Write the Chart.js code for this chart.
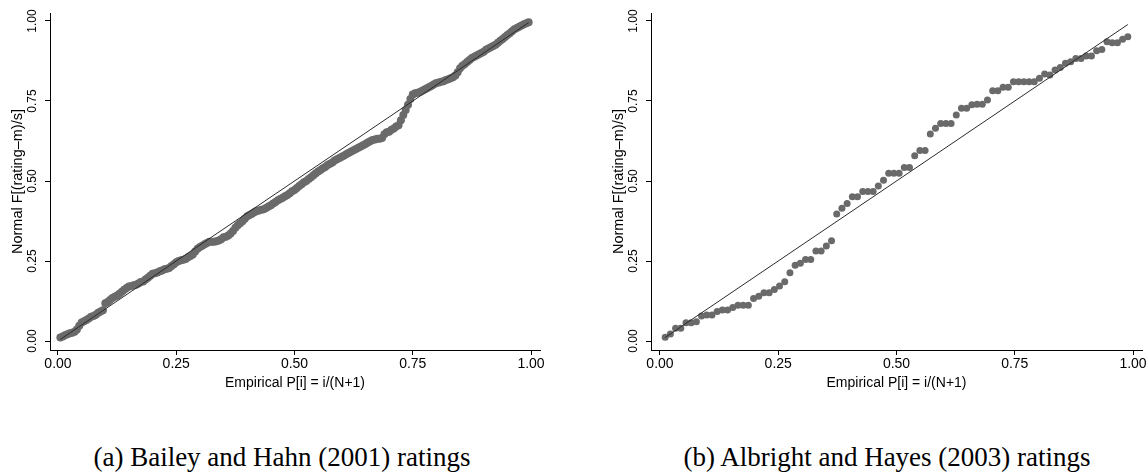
<!DOCTYPE html>
<html>
<head>
<meta charset="utf-8">
<script src="https://cdn.jsdelivr.net/npm/chart.js@4.4.1/dist/chart.umd.min.js"></script>
<style>
  body { margin: 0; background: #fff; width: 1148px; height: 476px; position: relative; overflow: hidden; }
  .panel { position: absolute; top: 0; }
  .cap { position: absolute; top: 444px; width: 560px; text-align: center;
         font-family: "Liberation Serif", "Times New Roman", serif; font-size: 27px; line-height: 27px; color: #000; }
</style>
</head>
<body>
<div class="panel" style="left:0px"><canvas id="qqA" width="574" height="400"></canvas></div>
<div class="panel" style="left:601px"><canvas id="qqB" width="547" height="400"></canvas></div>
<div class="cap" style="left:2px">(a) Bailey and Hahn (2001) ratings</div>
<div class="cap" style="left:607px">(b) Albright and Hayes (2003) ratings</div>
<script>
// tick positions and labels (same on both axes)
var tickVals = [0, 0.25, 0.5, 0.75, 1];
var tickLabels = ['0.00', '0.25', '0.50', '0.75', '1.00'];

// Normal F[(rating-m)/s] for each ordered rating, panel (a)
var baileyHahn = [
    0.011, 0.014, 0.018, 0.021, 0.024, 0.026, 0.029, 0.036, 0.048, 0.058,
    0.062, 0.066, 0.070, 0.076, 0.078, 0.082, 0.088, 0.092, 0.096, 0.118,
    0.122, 0.128, 0.134, 0.138, 0.142, 0.148, 0.154, 0.160, 0.166, 0.170,
    0.172, 0.174, 0.176, 0.180, 0.184, 0.186, 0.192, 0.198, 0.204, 0.210,
    0.212, 0.214, 0.218, 0.220, 0.224, 0.226, 0.228, 0.234, 0.240, 0.246,
    0.250, 0.252, 0.254, 0.256, 0.262, 0.266, 0.270, 0.280, 0.288, 0.294,
    0.298, 0.302, 0.306, 0.310, 0.310, 0.310, 0.312, 0.314, 0.318, 0.324,
    0.326, 0.330, 0.336, 0.344, 0.354, 0.362, 0.368, 0.374, 0.382, 0.390,
    0.394, 0.398, 0.402, 0.406, 0.408, 0.410, 0.412, 0.416, 0.420, 0.424,
    0.430, 0.434, 0.440, 0.444, 0.448, 0.452, 0.456, 0.462, 0.468, 0.472,
    0.478, 0.484, 0.490, 0.496, 0.500, 0.506, 0.512, 0.518, 0.524, 0.530,
    0.534, 0.540, 0.544, 0.550, 0.554, 0.558, 0.564, 0.568, 0.572, 0.576,
    0.580, 0.584, 0.588, 0.592, 0.596, 0.600, 0.604, 0.608, 0.612, 0.616,
    0.620, 0.624, 0.628, 0.630, 0.632, 0.632, 0.634, 0.646, 0.652, 0.654,
    0.660, 0.664, 0.670, 0.674, 0.690, 0.706, 0.722, 0.738, 0.756, 0.770,
    0.774, 0.776, 0.778, 0.782, 0.786, 0.790, 0.794, 0.798, 0.802, 0.806,
    0.808, 0.810, 0.812, 0.816, 0.818, 0.821, 0.824, 0.830, 0.840, 0.852,
    0.860, 0.866, 0.872, 0.878, 0.884, 0.888, 0.892, 0.896, 0.900, 0.904,
    0.910, 0.914, 0.918, 0.922, 0.926, 0.932, 0.938, 0.944, 0.950, 0.956,
    0.962, 0.968, 0.974, 0.978, 0.982, 0.986, 0.990, 0.993, 0.996
];

// panel (b)
var albrightHayes = [
    0.012, 0.022, 0.040, 0.040, 0.057, 0.057, 0.060, 0.078, 0.081, 0.081,
    0.092, 0.097, 0.097, 0.105, 0.112, 0.112, 0.112, 0.133, 0.140, 0.151,
    0.151, 0.161, 0.172, 0.185, 0.213, 0.237, 0.243, 0.255, 0.255, 0.281,
    0.281, 0.297, 0.313, 0.397, 0.415, 0.430, 0.451, 0.451, 0.467, 0.467,
    0.467, 0.484, 0.502, 0.524, 0.524, 0.524, 0.542, 0.542, 0.579, 0.595,
    0.595, 0.647, 0.665, 0.680, 0.680, 0.680, 0.706, 0.727, 0.727, 0.738,
    0.740, 0.740, 0.753, 0.782, 0.782, 0.793, 0.793, 0.810, 0.810, 0.810,
    0.810, 0.810, 0.821, 0.834, 0.831, 0.847, 0.855, 0.868, 0.873, 0.883,
    0.883, 0.891, 0.891, 0.907, 0.911, 0.935, 0.932, 0.932, 0.943, 0.951
];

var AXIS_FONT = '"Liberation Sans", Arial, sans-serif';

// empirical P[i] = i/(N+1)
function toPoints(vals) {
    var n = vals.length;
    return vals.map(function (v, i) { return { x: (i + 1) / (n + 1), y: v }; });
}

var yTickLabels = {
    id: 'yTickLabels',
    afterDraw: function (chart) {
        var s = chart.scales.y;
        var ctx = chart.ctx;
        ctx.save();
        ctx.font = '12px ' + AXIS_FONT;
        ctx.fillStyle = '#000';
        ctx.textAlign = 'center';
        ctx.textBaseline = 'middle';
        tickVals.forEach(function (v, i) {
            ctx.save();
            ctx.translate(s.right - 17, s.getPixelForValue(v));
            ctx.rotate(-Math.PI / 2);
            ctx.fillText(tickLabels[i], 0, 0);
            ctx.restore();
        });
        ctx.restore();
    }
};

function makeChart(id, vals, xMin, xMax, padRight, radius) {
    var pts = toPoints(vals);
    var first = pts[0].x, last = pts[pts.length - 1].x;
    return new Chart(document.getElementById(id).getContext('2d'), {
        type: 'scatter',
        data: {
            datasets: [{
                type: 'line',
                data: [{ x: first, y: first }, { x: last, y: last }],
                borderColor: '#2b2b2b',
                borderWidth: 1,
                pointRadius: 0,
                fill: false,
                order: 0
            }, {
                data: pts,
                backgroundColor: '#6a6a6a',
                borderWidth: 0,
                pointRadius: radius,
                order: 1
            }]
        },
        options: {
            responsive: false,
            animation: false,
            devicePixelRatio: 1,
            layout: { padding: { top: 13, right: padRight, left: 0, bottom: 0 } },
            plugins: { legend: { display: false }, tooltip: { enabled: false } },
            scales: {
                x: {
                    type: 'linear',
                    min: xMin,
                    max: xMax,
                    afterBuildTicks: function (s) { s.ticks = tickVals.map(function (v) { return { value: v }; }); },
                    afterFit: function (s) { s.height = 50; },
                    grid: { drawOnChartArea: false, drawTicks: true, tickLength: 5, color: '#000' },
                    border: { display: true, color: '#000', width: 1 },
                    ticks: {
                        padding: 1,
                        color: '#000',
                        font: { family: AXIS_FONT, size: 14 },
                        maxRotation: 0,
                        callback: function (v) { return tickLabels[tickVals.indexOf(v)]; }
                    },
                    title: {
                        display: true,
                        text: 'Empirical P[i] = i/(N+1)',
                        color: '#000',
                        font: { family: AXIS_FONT, size: 14 },
                        padding: { top: 0, bottom: 8.6 }
                    }
                },
                y: {
                    type: 'linear',
                    min: -0.028125,
                    max: 1.025,
                    afterBuildTicks: function (s) { s.ticks = tickVals.map(function (v) { return { value: v }; }); },
                    afterFit: function (s) { s.width = 50; },
                    grid: { drawOnChartArea: false, drawTicks: true, tickLength: 5, color: '#000' },
                    border: { display: true, color: '#000', width: 1 },
                    ticks: { display: false },
                    title: {
                        display: true,
                        text: 'Normal F[(rating–m)/s]',
                        color: '#000',
                        font: { family: AXIS_FONT, size: 14.5 },
                        padding: { top: 8.8, bottom: 0 }
                    }
                }
            }
        },
        plugins: [yTickLabels]
    });
}

makeChart('qqA', baileyHahn, -0.0169, 1.0190, 34, 4);
makeChart('qqB', albrightHayes, -0.0190, 1.0190, 6, 3.5);
</script>
</body>
</html>
